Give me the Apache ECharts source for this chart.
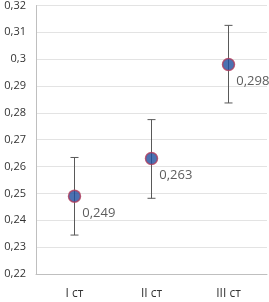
<!DOCTYPE html>
<html><head><meta charset="utf-8">
<script src="https://cdn.jsdelivr.net/npm/echarts@6/dist/echarts.min.js"></script>
<style>html,body{margin:0;padding:0;background:#fff}#c{width:269px;height:302px}</style>
</head><body><div id="c"></div>
<script>
const categories = ['I ст', 'II ст', 'III ст'];
const values = [0.249, 0.263, 0.298];
const errLow = [0.2345, 0.2482, 0.2837];
const errHigh = [0.2634, 0.2775, 0.3126];

const chart = echarts.init(document.getElementById('c'));
const fmt = v => String(+(+v).toFixed(3)).replace('.', ',');
chart.setOption({
  animation: false,
  grid: {left: 36, top: 4, right: 2, bottom: 28},
  xAxis: {
    type: 'category', data: categories,
    axisLine: {lineStyle: {color: '#bfbfbf'}},
    axisTick: {show: false},
    axisLabel: {color: '#333', fontSize: 12, fontFamily: 'Open Sans', margin: 14}
  },
  yAxis: {
    type: 'value', min: 0.22, max: 0.32, interval: 0.01,
    axisLine: {show: true, lineStyle: {color: '#bfbfbf'}},
    axisTick: {show: false},
    splitLine: {lineStyle: {color: '#e3e3e3'}},
    axisLabel: {color: '#333', fontSize: 11, fontFamily: 'Open Sans', margin: 10,
      formatter: v => String(+v.toFixed(2)).replace('.', ',')}
  },
  series: [
    {
      type: 'custom',
      data: categories.map((c, i) => [i, errLow[i], errHigh[i]]),
      renderItem: (params, api) => {
        const lo = api.coord([api.value(0), api.value(1)]);
        const hi = api.coord([api.value(0), api.value(2)]);
        const w = 4;
        const st = {stroke: '#595959', lineWidth: 1};
        return {type: 'group', children: [
          {type: 'line', shape: {x1: lo[0], y1: lo[1], x2: hi[0], y2: hi[1]}, style: st},
          {type: 'line', shape: {x1: lo[0]-w, y1: lo[1], x2: lo[0]+w, y2: lo[1]}, style: st},
          {type: 'line', shape: {x1: hi[0]-w, y1: hi[1], x2: hi[0]+w, y2: hi[1]}, style: st}
        ]};
      },
      z: 2
    },
    {
      type: 'scatter',
      data: values,
      symbolSize: 12,
      itemStyle: {color: '#1f4e9e', borderColor: '#b03a5a', borderWidth: 1.5},
      label: {
        show: true, position: 'right', offset: [-4, 17],
        color: '#333', fontSize: 13, fontFamily: 'Open Sans',
        formatter: p => fmt(p.value)
      },
      z: 3
    }
  ]
});
</script></body></html>
